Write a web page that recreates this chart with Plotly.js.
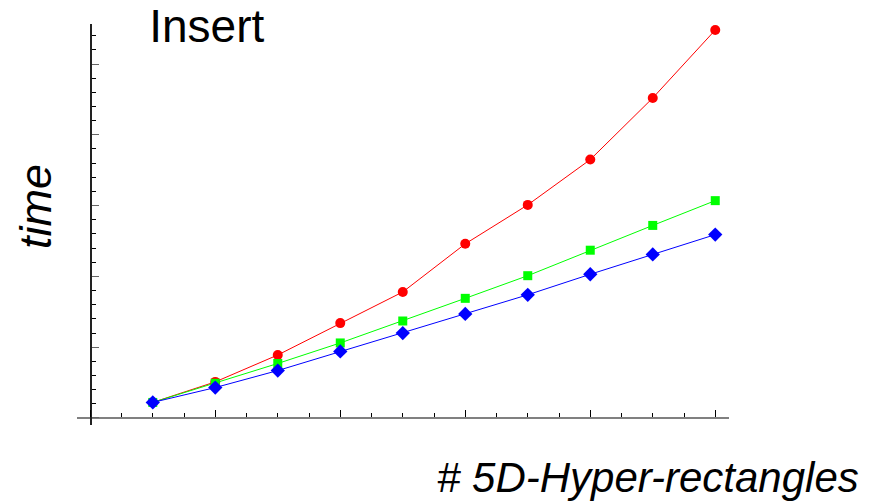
<!DOCTYPE html>
<html>
<head>
<meta charset="utf-8">
<script src="https://cdn.plot.ly/plotly-3.0.1.min.js"></script>
<style>html,body{margin:0;padding:0;background:#fff;}#chart{width:885px;height:502px;}</style>
</head>
<body>
<div id="chart"></div>
<script>
// Data (x = count index, y = time in arbitrary units; no labels in the original)
const counts = [1, 2, 3, 4, 5, 6, 7, 8, 9, 10];
const seriesRed = [2.2, 5.1, 8.9, 13.4, 17.8, 24.6, 30.1, 36.5, 45.2, 54.8];
const seriesGreen = [2.2, 4.9, 7.7, 10.6, 13.7, 16.9, 20.1, 23.7, 27.2, 30.7];
const seriesBlue = [2.2, 4.3, 6.7, 9.4, 12.0, 14.7, 17.4, 20.3, 23.1, 25.9];

const titleText = 'Insert';
const yTitle = 'time';
const xTitle = '# 5D-Hyper-rectangles';

const font = 'Liberation Sans, Arial, sans-serif';

const traces = [
  {x: counts, y: seriesRed, mode: 'lines+markers', line: {color: '#ff0000', width: 1},
   marker: {symbol: 'circle', size: 10, color: '#ff0000'}},
  {x: counts, y: seriesGreen, mode: 'lines+markers', line: {color: '#00ff00', width: 1},
   marker: {symbol: 'square', size: 9, color: '#00ff00'}},
  {x: counts, y: seriesBlue, mode: 'lines+markers', line: {color: '#0000ff', width: 1},
   marker: {symbol: 'diamond', size: 11, color: '#0000ff'}}
];

const layout = {
  width: 885, height: 502,
  margin: {l: 77, r: 155.5, t: 24, b: 77, pad: 0},
  paper_bgcolor: '#fff', plot_bgcolor: '#fff',
  showlegend: false,
  title: {text: titleText, font: {family: font, size: 46, color: '#000'},
          xref: 'paper', yref: 'container', x: 0.199, xanchor: 'center', y: 0.949, yanchor: 'middle'},
  xaxis: {
    range: [-0.2125, 10.22], showgrid: false, zeroline: false,
    anchor: 'free', position: 0.01746, showline: true, linecolor: '#808080', linewidth: 2,
    ticks: 'inside', tickmode: 'linear', tick0: 0, dtick: 2, ticklen: 7, tickcolor: '#000', tickwidth: 1,
    minor: {ticks: 'inside', dtick: 0.5, ticklen: 4, tickcolor: '#000', tickwidth: 1},
    showticklabels: false, fixedrange: true
  },
  yaxis: {
    range: [-0.99, 55.65], showgrid: false, zeroline: false,
    anchor: 'free', position: 0.0204, showline: true, linecolor: '#222', linewidth: 1.3,
    ticks: 'inside', tickmode: 'linear', tick0: 0, dtick: 10, ticklen: 7, tickcolor: '#666', tickwidth: 1,
    minor: {ticks: 'inside', dtick: 2, ticklen: 4, tickcolor: '#000', tickwidth: 1},
    showticklabels: false, fixedrange: true
  },
  annotations: [
    {text: yTitle, xref: 'paper', yref: 'paper', x: -0.0643, y: 0.5436, xanchor: 'center', yanchor: 'middle',
     textangle: -90, showarrow: false, font: {family: font, size: 45, color: '#000', style: 'italic'}},
    {text: xTitle, xref: 'paper', yref: 'paper', x: 0.876, y: -0.131, xanchor: 'center', yanchor: 'middle',
     showarrow: false, font: {family: font, size: 42, color: '#000', style: 'italic'}}
  ]
};

Plotly.newPlot('chart', traces, layout, {displayModeBar: false, staticPlot: true});
</script>
</body>
</html>
